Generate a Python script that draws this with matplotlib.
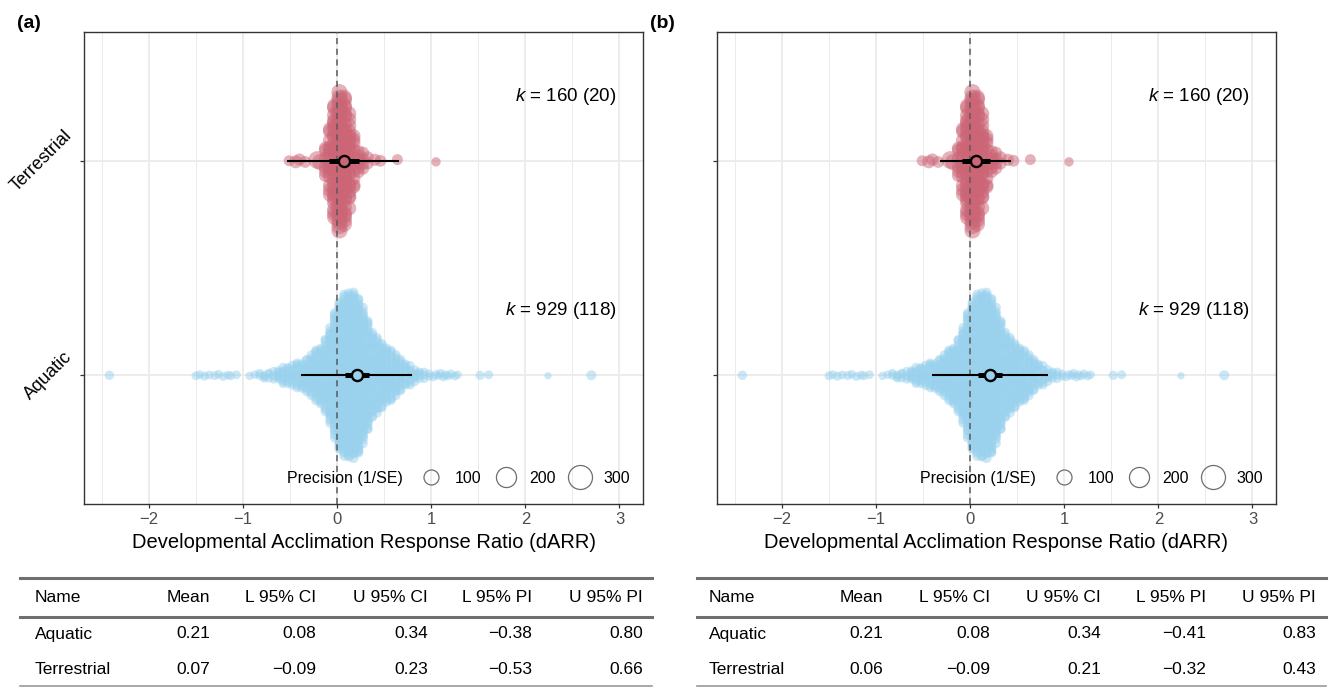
import numpy as np
import matplotlib.pyplot as plt
from matplotlib.lines import Line2D

plt.rcParams['font.family'] = ['Liberation Sans', 'DejaVu Sans']
plt.rcParams['mathtext.fontset'] = 'custom'
plt.rcParams['mathtext.it'] = 'Liberation Sans:italic'
plt.rcParams['mathtext.rm'] = 'Liberation Sans'

groups = ['Aquatic', 'Terrestrial']
k_labels = ['$k$ = 929 (118)', '$k$ = 160 (20)']
colors = ['#9AD2EE', '#CC6677']

# raw effect sizes, read off the swarm: centres of 0.05-wide bins, number of
# estimates in each bin and a typical precision (1/SE) for that bin
aq_bins = [-0.875, -0.825, -0.775, -0.725, -0.675, -0.625, -0.575, -0.525,
           -0.475, -0.425, -0.375, -0.325, -0.275, -0.225, -0.175, -0.125,
           -0.075, -0.025, 0.025, 0.075, 0.125, 0.175, 0.225, 0.275, 0.325,
           0.375, 0.425, 0.475, 0.525, 0.575, 0.625, 0.675, 0.725, 0.775,
           0.825, 0.875, 0.925, 0.975]
aq_counts = [1, 2, 3, 3, 3, 6, 7, 8, 9, 10, 12, 14, 17, 21, 24, 29, 38, 52,
             65, 69, 69, 69, 68, 59, 43, 34, 30, 28, 24, 21, 18, 14, 10, 8,
             6, 4, 3, 2]
aq_prec = [22, 24, 24, 26, 26, 26, 28, 28, 28, 28, 30, 30, 30, 30, 32, 32,
           32, 34, 34, 34, 34, 34, 34, 32, 32, 30, 30, 30, 30, 28, 28, 28,
           26, 26, 26, 24, 24, 22]
# sparse tail estimates (single points)
aq_out = [-2.42, -1.50, -1.46, -1.41, -1.36, -1.30, -1.26, -1.21, -1.16,
          -1.13, -1.07, -0.93, 1.02, 1.05, 1.08, 1.10, 1.13, 1.15, 1.18,
          1.21, 1.25, 1.28, 1.52, 1.61, 2.24, 2.70]
aq_out_prec = [30, 26, 24, 26, 24, 26, 24, 26, 24, 26, 24, 22, 26, 26, 24,
               26, 24, 26, 24, 26, 24, 22, 28, 26, 14, 36]

ter_bins = [-0.125, -0.075, -0.025, 0.025, 0.075, 0.125, 0.175, 0.225,
            0.275, 0.325]
ter_counts = [6, 14, 26, 32, 30, 20, 10, 6, 4, 2]
ter_prec = [70, 90, 110, 120, 110, 95, 80, 70, 60, 55]
ter_out = [-0.51, -0.44, -0.40, -0.34, -0.21, -0.18, 0.40, 0.46, 0.64, 1.05]
ter_out_prec = [45, 70, 60, 55, 150, 120, 60, 55, 45, 30]

# model results, order = groups
mean_a = [0.21, 0.07]
lci_a = [0.08, -0.09]
uci_a = [0.34, 0.23]
lpi_a = [-0.38, -0.53]
upi_a = [0.80, 0.66]

mean_b = [0.21, 0.06]
lci_b = [0.08, -0.09]
uci_b = [0.34, 0.21]
lpi_b = [-0.41, -0.32]
upi_b = [0.83, 0.43]

col_names = ['Name', 'Mean', 'L 95% CI', 'U 95% CI', 'L 95% PI', 'U 95% PI']

W, H = 1329, 688


def marker_d(p):
    # diameter in points, like ggplot's area scale
    return 0.72 * (2.7 + 1.23 * np.sqrt(p))


def vdc(n):
    out = np.zeros(n)
    for i in range(n):
        k, f, v = i + 1, 0.5, 0.0
        while k:
            v += f * (k & 1)
            k >>= 1
            f *= 0.5
        out[i] = v
    return out


def quasirandom(x, bw, width):
    d = (x[:, None] - x[None, :]) / bw
    dens = np.exp(-0.5 * d ** 2).sum(1)
    dens = dens / dens.max()
    order = np.argsort(x, kind='stable')
    off = np.zeros(len(x))
    off[order] = (vdc(len(x)) - 0.5) * 2 * width * dens[order]
    return off


aq_x = np.concatenate([np.repeat(aq_bins, aq_counts), aq_out])
aq_p = np.concatenate([np.repeat(aq_prec, aq_counts), aq_out_prec])
ter_x = np.concatenate([np.repeat(ter_bins, ter_counts), ter_out])
ter_p = np.concatenate([np.repeat(ter_prec, ter_counts), ter_out_prec])

swarm = [(aq_x, aq_p, quasirandom(aq_x, 0.05, 0.39)),
         (ter_x, ter_p, quasirandom(ter_x, 0.04, 0.33))]


def fmt(v):
    return ('%.2f' % v).replace('-', '\u2212')


def draw_panel(left, label, means, lcis, ucis, lpis, upis, show_y):
    ax = fig.add_axes([left / W, 1 - 504 / H, 559 / W, 472 / H])
    ax.set_xlim(-2.69, 3.25)
    ax.set_ylim(0.4, 2.6)
    ax.set_xticks(range(-2, 4))
    ax.set_xticklabels([fmt(v).replace('.00', '') for v in range(-2, 4)])
    ax.set_xticks([-2.5, -1.5, -0.5, 0.5, 1.5, 2.5], minor=True)
    ax.set_yticks([1, 2])
    if show_y:
        ax.set_yticklabels(groups, rotation=45, ha='right', va='center',
                           fontsize=13, color='black')
    else:
        ax.set_yticklabels(['', ''])
    ax.grid(which='major', color='#EBEBEB', lw=1.3)
    ax.grid(which='minor', axis='x', color='#EBEBEB', lw=0.7)
    ax.set_axisbelow(True)
    ax.tick_params(which='minor', length=0)
    ax.tick_params(which='major', length=3, width=0.9, color='#333333',
                   pad=3)
    ax.tick_params(axis='x', labelsize=12, labelcolor='#4D4D4D')
    for s in ax.spines.values():
        s.set_color('#333333')
        s.set_linewidth(1.0)

    for i, (x, p, off) in enumerate(swarm):
        ax.scatter(x, i + 1 + off, s=marker_d(p) ** 2, color=colors[i],
                   alpha=0.5, linewidths=0, zorder=2)

    ax.axvline(0, color='#5A5A5A', lw=1.1, ls=(0, (4, 3)), zorder=3)

    for i in range(2):
        y = i + 1
        ax.plot([lpis[i], upis[i]], [y, y], color='black', lw=1.5,
                solid_capstyle='butt', zorder=4)
        ax.plot([lcis[i], ucis[i]], [y, y], color='black', lw=3.6,
                solid_capstyle='butt', zorder=5)
        ax.plot(means[i], y, 'o', ms=8, mfc=colors[i], mec='black',
                mew=1.7, zorder=6)
        ax.text(0.953, y + 0.3, k_labels[i], transform=ax.get_yaxis_transform(),
                ha='right', va='center', fontsize=13.5)

    handles = [Line2D([], [], ls='none', marker='o', ms=marker_d(p),
                      mfc='none', mec='#6E6E6E', mew=0.9)
               for p in (100, 200, 300)]
    ax.legend(handles, ['100', '200', '300'], ncol=3, loc='center right',
              bbox_to_anchor=(0.977, 0.055), frameon=False, fontsize=11.5,
              handlelength=1.2, handletextpad=0.85, columnspacing=0.95,
              borderpad=0, borderaxespad=0)
    ax.text(0.571, 0.055, 'Precision (1/SE)', transform=ax.transAxes,
            ha='right', va='center', fontsize=11.5)

    ax.set_xlabel('Developmental Acclimation Response Ratio (dARR)',
                  fontsize=14.5, labelpad=4)
    fig.text((left - 67) / W, 1 - 23 / H, label, fontsize=14,
             fontweight='bold', va='center')
    return ax


def draw_table(x0, x1, name_x, rights, means, lcis, ucis, lpis, upis):
    def hline(y, lw, c):
        fig.add_artist(Line2D([x0 / W, x1 / W], [1 - y / H] * 2, lw=lw,
                              color=c))
    hline(578, 2.2, '#6F6F6F')
    hline(617, 2.2, '#6F6F6F')
    hline(686, 1.2, '#9A9A9A')
    rows = [col_names]
    for i in range(2):
        rows.append([groups[i], fmt(means[i]), fmt(lcis[i]), fmt(ucis[i]),
                     fmt(lpis[i]), fmt(upis[i])])
    for r, y in zip(rows, [598, 634, 669]):
        fig.text(name_x / W, 1 - y / H, r[0], fontsize=12.5, va='center')
        for txt, xr in zip(r[1:], rights):
            fig.text(xr / W, 1 - y / H, txt, fontsize=12.5, va='center',
                     ha='right')


fig = plt.figure(figsize=(W / 100, H / 100), dpi=100)

draw_panel(84, '(a)', mean_a, lci_a, uci_a, lpi_a, upi_a, True)
draw_panel(717, '(b)', mean_b, lci_b, uci_b, lpi_b, upi_b, False)

draw_table(20, 652, 35, [210, 316, 428, 532, 643],
           mean_a, lci_a, uci_a, lpi_a, upi_a)
draw_table(697, 1326, 709, [883, 990, 1101, 1206, 1316],
           mean_b, lci_b, uci_b, lpi_b, upi_b)

fig.savefig('out.png', dpi=100)
